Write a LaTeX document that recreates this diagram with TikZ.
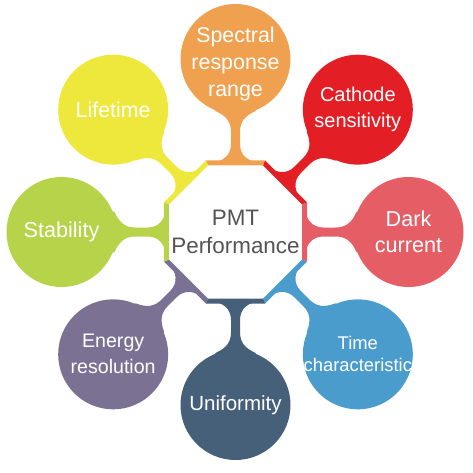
\documentclass[tikz,border=0pt]{standalone}
\usepackage{fontspec}
\setmainfont{Liberation Sans}
\usetikzlibrary{calc}

\definecolor{spectralc}{HTML}{F0A150}
\definecolor{cathodec}{HTML}{E41E25}
\definecolor{darkc}{HTML}{E55E65}
\definecolor{timec}{HTML}{4A9CCC}
\definecolor{uniformc}{HTML}{46607A}
\definecolor{energyc}{HTML}{7B7293}
\definecolor{stabilityc}{HTML}{B6D34A}
\definecolor{lifetimec}{HTML}{EEE73C}

% neck between the octagon and a bubble: direction, colour
\newcommand{\neck}[2]{%
  \fill[#2, shift={(core.center)}, rotate=#1-90]
    (-29.6,69) .. controls (-12,69) and (-4.5,77) .. (-4.5,88) -- (-4.5,100)
    .. controls (-4.5,110) and (-9,116) .. (-20,121) -- (-28,140) -- (28,140) -- (20,121)
    .. controls (9,116) and (4.5,110) .. (4.5,100) -- (4.5,88)
    .. controls (4.5,77) and (12,69) .. (29.6,69) -- cycle;}
% one coloured side of the octagon
\newcommand{\band}[2]{%
  \fill[#2, shift={(core.center)}, rotate=#1]
    (-22.5:77.4) -- (22.5:77.4) -- (22.5:72.0) -- (-22.5:72.0) -- cycle;}

\begin{document}
\begin{tikzpicture}[x=1pt, y=1pt,
    bubble/.style={circle, fill=#1, minimum size=110pt, inner sep=-20pt, text=white, align=center}]
  \useasboundingbox (0,0) rectangle (473,472);

  \node[align=center, text=black!67, font=\fontsize{22.4}{28}\selectfont] (core) at (235.5,240) {PMT\\Performance};

  % necks
  \neck{90}{spectralc}
  \neck{45}{cathodec}
  \neck{0}{darkc}
  \neck{-45}{timec}
  \neck{-90}{uniformc}
  \neck{-135}{energyc}
  \neck{180}{stabilityc}
  \neck{135}{lifetimec}

  % octagon
  \band{90}{spectralc}
  \band{45}{cathodec}
  \band{0}{darkc}
  \band{-45}{timec}
  \band{-90}{uniformc}
  \band{-135}{energyc}
  \band{180}{stabilityc}
  \band{135}{lifetimec}

  % bubbles
  \node[bubble=spectralc, font=\fontsize{21.4}{27}\selectfont] (spectral) at ($(core.center)+(90:173)$) {\rule{0pt}{25pt}Spectral\\response\\range};
  \node[bubble=cathodec, font=\fontsize{20}{26}\selectfont] (cathode) at ($(core.center)+(45:173)$) {Cathode\\sensitivity};
  \node[bubble=darkc, font=\fontsize{21.6}{26}\selectfont] (dark) at ($(core.center)+(0:173)$) {Dark\\current};
  \node[bubble=timec, font=\fontsize{18.4}{22}\selectfont] (time) at ($(core.center)+(-45:173)$) {Time\\characteristic};
  \node[bubble=uniformc, font=\fontsize{20.5}{25}\selectfont] (uniform) at ($(core.center)+(-90:173)$) {Uniformity};
  \node[bubble=energyc, font=\fontsize{19.6}{26}\selectfont] (energy) at ($(core.center)+(-135:173)$) {Energy\\resolution};
  \node[bubble=stabilityc, font=\fontsize{21.6}{26}\selectfont] (stability) at ($(core.center)+(180:174)$) {Stability};
  \node[bubble=lifetimec, font=\fontsize{21.4}{26}\selectfont] (lifetime) at ($(core.center)+(135:173)$) {Lifetime};
\end{tikzpicture}
\end{document}
